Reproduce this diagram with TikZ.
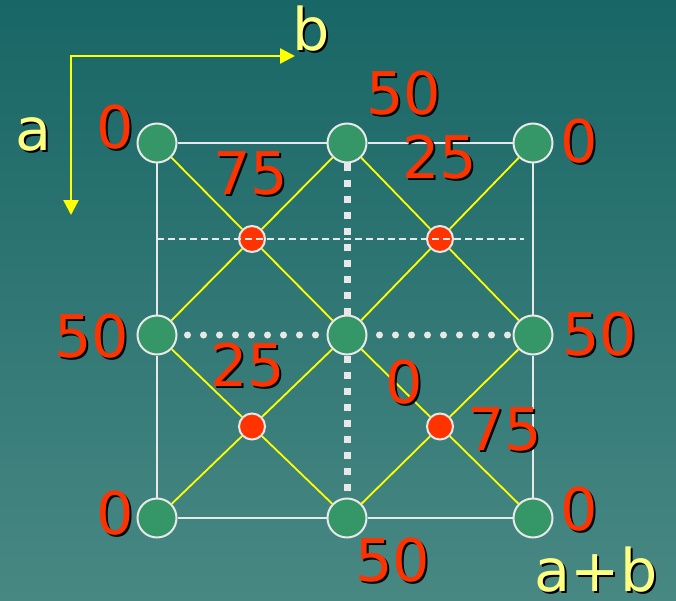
\documentclass[tikz,border=0pt]{standalone}
\usepackage{fontspec}
\setmainfont{DejaVu Sans}
\usetikzlibrary{arrows.meta}
\definecolor{bgtop}{RGB}{24,102,102}
\definecolor{bgbottom}{RGB}{72,136,131}
\definecolor{sitegreen}{RGB}{53,150,104}
\definecolor{sitered}{RGB}{255,51,0}
\definecolor{axisyellow}{RGB}{255,255,0}
\definecolor{labelyellow}{RGB}{255,255,128}
\definecolor{rimwhite}{RGB}{232,232,232}
\newcommand{\shadowed}[1]{\rlap{\kern2bp\raisebox{-2bp}{\color{black}#1}}#1}

\begin{document}
\begin{tikzpicture}[x=1bp, y=-1bp,
  every node/.style={font=\fontsize{59}{60}\selectfont, inner sep=0pt},
  site/.style={circle, draw=rimwhite, line width=2bp, fill=sitegreen, minimum size=39bp},
  hole/.style={circle, draw=rimwhite, line width=2bp, fill=sitered, minimum size=26bp},
  val/.style={text=sitered},
  axlabel/.style={text=labelyellow},
  cell/.style={rimwhite, line width=1.8bp},
  bond/.style={axisyellow, line width=1.8bp}
]

% Background
\shade[top color=bgtop, bottom color=bgbottom] (0,0) rectangle (676,601);
\useasboundingbox (0,0) rectangle (676,601);

% Axes
\coordinate (corner) at (71,56);
\coordinate (bhead) at (295,56);
\coordinate (ahead) at (71,215);
\draw[axisyellow, line width=2.5bp,
  {Triangle[length=15bp, width=15bp]}-{Triangle[length=15bp, width=15bp]}]
  (ahead) |- (bhead);
\node[axlabel] (alabel) at (34,135) {\shadowed{a}};
\node[axlabel] (blabel) at (311,30) {\shadowed{b}};
\node[axlabel] (ablabel) at (596,571) {\shadowed{a+b}};

% Lattice sites
\node[site] (tl) at (157,143) {};
\node[site] (tm) at (347,143) {};
\node[site] (tr) at (533,143) {};
\node[site] (ml) at (157,335) {};
\node[site] (c)  at (347,335) {};
\node[site] (mr) at (533,335) {};
\node[site] (bl) at (157,518) {};
\node[site] (bm) at (347,518) {};
\node[site] (br) at (533,518) {};

% Interstitial holes
\node[hole] (r1) at (252,239) {};
\node[hole] (r2) at (440,239) {};
\node[hole] (r3) at (252,426.5) {};
\node[hole] (r4) at (440,426.5) {};

% Cell outline
\draw[cell] (tl) -- (tm) -- (tr) -- (mr) -- (br) -- (bm) -- (bl) -- (ml) -- (tl);

% Yellow bonds through the holes
\draw[bond] (tl) -- (r1) -- (c);
\draw[bond] (tm) -- (r1) -- (ml);
\draw[bond] (tr) -- (r2) -- (c);
\draw[bond] (tm) -- (r2) -- (mr);
\draw[bond] (bl) -- (r3) -- (c);
\draw[bond] (bm) -- (r3) -- (ml);
\draw[bond] (br) -- (r4) -- (c);
\draw[bond] (bm) -- (r4) -- (mr);

% Mirror lines
\draw[rimwhite, line width=7bp, dash pattern=on 7bp off 9bp] (tm) -- (c);
\draw[rimwhite, line width=7bp, dash pattern=on 7bp off 9bp] (c) -- (bm);
\draw[rimwhite, line width=7bp, line cap=round, dash pattern=on 0bp off 16bp, dash phase=6bp] (ml) -- (c);
\draw[rimwhite, line width=7bp, line cap=round, dash pattern=on 0bp off 16bp, dash phase=4bp] (c) -- (mr);
\coordinate (dl) at (157,239);
\coordinate (dr) at (524,239);
\draw[rimwhite, line width=1.5bp, dash pattern=on 7bp off 4bp] (dl) -- (dr);

% Values
\node[val] (vtl) at (115,128) {\shadowed{0}};
\node[val] (vtm) at (404,94)  {\shadowed{50}};
\node[val] (vtr) at (579,142) {\shadowed{0}};
\node[val] (vr1) at (251,174) {\shadowed{75}};
\node[val] (vr2) at (440,158) {\shadowed{25}};
\node[val] (vml) at (92,337)  {\shadowed{50}};
\node[val] (vmr) at (600,335) {\shadowed{50}};
\node[val] (vr3) at (248,366) {\shadowed{25}};
\node[val] (vc)  at (404,383) {\shadowed{0}};
\node[val] (vr4) at (505,430) {\shadowed{75}};
\node[val] (vbl) at (115,514) {\shadowed{0}};
\node[val] (vbm) at (393,561) {\shadowed{50}};
\node[val] (vbr) at (579,510) {\shadowed{0}};

\end{tikzpicture}
\end{document}
